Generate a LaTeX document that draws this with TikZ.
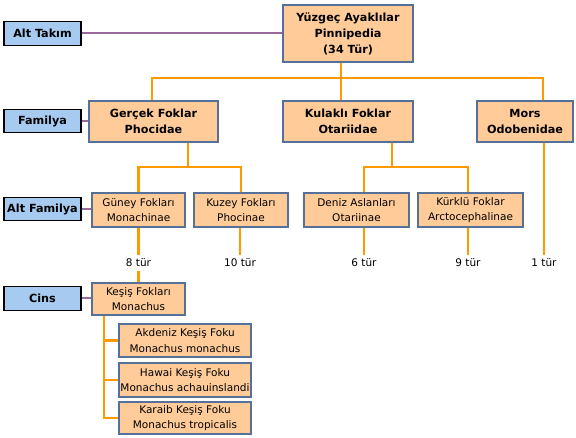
\documentclass[tikz,border=0pt]{standalone}
\usepackage{fontspec}
\setmainfont{DejaVu Sans}
\usetikzlibrary{backgrounds}
\definecolor{boxfill}{HTML}{FFCC99}
\definecolor{boxline}{HTML}{56709A}
\definecolor{lvlfill}{HTML}{A6CAF0}
\definecolor{orline}{HTML}{FF9900}
\definecolor{puline}{HTML}{9A6A9A}
\tikzset{
  lvl/.style={draw=black, line width=1.3pt, fill=lvlfill, inner sep=0pt, align=center,
    minimum width=77pt, minimum height=23.5pt, font=\fontsize{11.2}{15}\selectfont\bfseries},
  taxb/.style={draw=boxline, line width=1.2pt, fill=boxfill, inner sep=0pt, align=center,
    font=\fontsize{11.2}{16}\selectfont\bfseries},
  taxr/.style={draw=boxline, line width=1.2pt, fill=boxfill, inner sep=0pt, align=center,
    font=\fontsize{10.5}{15.5}\selectfont},
  cnt/.style={inner sep=0pt, minimum height=16pt, font=\fontsize{10.5}{12}\selectfont},
  oline/.style={draw=orline, line width=2.3pt},
  pline/.style={draw=puline, line width=2pt},
}
\begin{document}
\begin{tikzpicture}[x=1pt,y=-1pt]
\useasboundingbox (0,0) rectangle (576,438);
% level labels
\node[lvl] (lalt) at (42.5,33.5) {Alt Takım};
\node[lvl] (lfam) at (42.5,121) {Familya};
\node[lvl] (laltf) at (42.5,209) {Alt Familya};
\node[lvl] (lcins) at (42.5,298.5) {Cins};
% taxa
\node[taxb, minimum width=130pt, minimum height=57pt] (top) at (348,33.5) {Yüzgeç Ayaklılar\\Pinnipedia\\(34 Tür)};
\node[taxb, minimum width=129pt, minimum height=41pt] (gercek) at (153.5,121.5) {Gerçek Foklar\\Phocidae};
\node[taxb, minimum width=130pt, minimum height=41pt] (kulakli) at (348,121.5) {Kulaklı Foklar\\Otariidae};
\node[taxb, minimum width=96pt, minimum height=41pt] (mors) at (525,121.5) {Mors\\Odobenidae};
\node[taxr, minimum width=93pt, minimum height=34pt] (guney) at (138.5,210) {Güney Fokları\\Monachinae};
\node[taxr, minimum width=94pt, minimum height=34pt] (kuzey) at (241,210) {Kuzey Fokları\\Phocinae};
\node[taxr, minimum width=105pt, minimum height=34pt] (deniz) at (356.5,210) {Deniz Aslanları\\Otariinae};
\node[taxr, minimum width=105pt, minimum height=34pt] (kurklu) at (470.5,210) {Kürklü Foklar\\Arctocephalinae};
\node[taxr, minimum width=93pt, minimum height=32pt] (kesis) at (138.5,299) {Keşiş Fokları\\Monachus};
\node[taxr, minimum width=132pt, minimum height=33pt] (akdeniz) at (185,340.5) {Akdeniz Keşiş Foku\\Monachus monachus};
\node[taxr, minimum width=132pt, minimum height=34pt] (hawai) at (185,380) {Hawai Keşiş Foku\\Monachus achauinslandi};
\node[taxr, minimum width=132pt, minimum height=32pt] (karaib) at (185,418) {Karaib Keşiş Foku\\Monachus tropicalis};
% counts
\node[cnt] (t8) at (138.5,263) {8 tür};
\node[cnt] (t10) at (240,263) {10 tür};
\node[cnt] (t6) at (364,263) {6 tür};
\node[cnt] (t9) at (468,263) {9 tür};
\node[cnt] (t1) at (544,263) {1 tür};
% junctions
\coordinate (jtop) at (341,78);
\coordinate (jm) at (543,78);
\coordinate (jg) at (188,167);
\coordinate (jk) at (392,167);
\coordinate (jsp) at (104,0);
\begin{scope}[on background layer]
\fill[white] (0,0) rectangle (576,438);
\draw[pline] (lalt.east) -- (top.west |- lalt.east);
\draw[pline] (lfam.east) -- (gercek.west |- lfam.east);
\draw[pline] (laltf.east) -- (guney.west |- laltf.east);
\draw[pline] (lcins.east) -- (kesis.west |- lcins.east);
\draw[oline] (top.south -| jtop) -- (kulakli.north -| jtop);
\draw[oline] (gercek.north -| 152,0) |- (jm) -- (mors.north -| jm);
\draw[oline] (gercek.south -| jg) -- (jg);
\draw[oline] (guney.north) |- (kuzey.north |- jg) -- (kuzey.north);
\draw[oline] (kulakli.south -| jk) -- (jk);
\draw[oline] (deniz.north -| t6) -- (t6 |- jk) -- (t9 |- jk) -- (kurklu.north -| t9);
\draw[oline] (guney.south) -- (t8.north);
\draw[oline] (t8.south) -- (kesis.north);
\draw[oline] (kuzey.south -| t10) -- (t10.north);
\draw[oline] (deniz.south -| t6) -- (t6.north);
\draw[oline] (kurklu.south -| t9) -- (t9.north);
\draw[oline] (mors.south -| t1) -- (t1.north);
\draw[oline] (kesis.south -| jsp) |- (karaib.west);
\draw[oline] (akdeniz.west) -| (kesis.south -| jsp);
\draw[oline] (hawai.west) -- (hawai.west -| jsp);
\end{scope}
\end{tikzpicture}
\end{document}
